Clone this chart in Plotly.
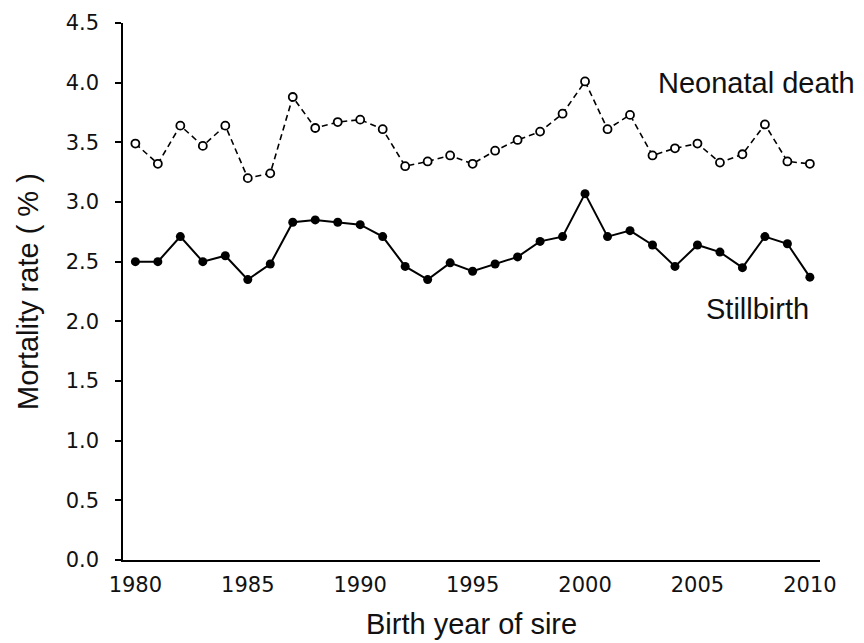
import plotly.graph_objects as go

# Birth year of sire
years = list(range(1980, 2011))

# Mortality rates (%)
neonatal_death = [3.49, 3.32, 3.64, 3.47, 3.64, 3.20, 3.24, 3.88, 3.62, 3.67,
                  3.69, 3.61, 3.30, 3.34, 3.39, 3.32, 3.43, 3.52, 3.59, 3.74,
                  4.01, 3.61, 3.73, 3.39, 3.45, 3.49, 3.33, 3.40, 3.65, 3.34,
                  3.32]
stillbirth = [2.50, 2.50, 2.71, 2.50, 2.55, 2.35, 2.48, 2.83, 2.85, 2.83,
              2.81, 2.71, 2.46, 2.35, 2.49, 2.42, 2.48, 2.54, 2.67, 2.71,
              3.07, 2.71, 2.76, 2.64, 2.46, 2.64, 2.58, 2.45, 2.71, 2.65,
              2.37]

x_ticks = [1980, 1985, 1990, 1995, 2000, 2005, 2010]
y_ticks = [0.0, 0.5, 1.0, 1.5, 2.0, 2.5, 3.0, 3.5, 4.0, 4.5]

tick_font = dict(family="DejaVu Sans", size=21, color="#111111")
text_font = dict(family="Liberation Sans", size=29, color="#111111")

fig = go.Figure()

fig.add_trace(go.Scatter(
    x=years, y=neonatal_death, mode="lines+markers", name="Neonatal death",
    line=dict(color="black", width=1.6, dash="6px,4px"),
    marker=dict(symbol="circle", size=8, color="white",
                line=dict(color="black", width=1.8)),
    cliponaxis=False,
))

fig.add_trace(go.Scatter(
    x=years, y=stillbirth, mode="lines+markers", name="Stillbirth",
    line=dict(color="black", width=2),
    marker=dict(symbol="circle", size=9, color="black"),
    cliponaxis=False,
))

# Series labels
fig.add_annotation(text="Neonatal death", xref="paper", x=1.053, xanchor="right",
                   yref="y", y=4.0, yanchor="middle", showarrow=False, font=text_font)
fig.add_annotation(text="Stillbirth", xref="x", x=2010.05, xanchor="right",
                   yref="y", y=2.10, yanchor="middle", showarrow=False, font=text_font)

# Axis titles
fig.add_annotation(text="Birth year of sire", xref="paper", x=0.5, xanchor="center",
                   yref="paper", y=-0.12, yanchor="middle", showarrow=False, font=text_font)
fig.add_annotation(text="Mortality rate ( % )", xref="paper", x=-0.137, xanchor="center",
                   yref="paper", y=0.5, yanchor="middle", textangle=-90,
                   showarrow=False, font=text_font)

fig.update_layout(
    width=864, height=643,
    margin=dict(l=123, r=44, t=23, b=83),
    paper_bgcolor="white", plot_bgcolor="white",
    showlegend=False,
)

fig.update_xaxes(
    range=[1979.45, 2010.45], tickvals=x_ticks, ticktext=[str(v) for v in x_ticks],
    showgrid=False, zeroline=False, showline=True, linecolor="black", linewidth=1.5,
    ticks="", ticklabelstandoff=5, tickfont=tick_font, automargin=False,
)
fig.update_yaxes(
    range=[0, 4.5], tickvals=y_ticks, ticktext=[f"{v:.1f}" for v in y_ticks],
    showgrid=False, zeroline=False, showline=True, linecolor="black", linewidth=1.5,
    ticks="outside", ticklen=6, tickwidth=1.5, tickcolor="black",
    ticklabelstandoff=12, tickfont=tick_font, automargin=False,
)

fig.write_html("out.html")
